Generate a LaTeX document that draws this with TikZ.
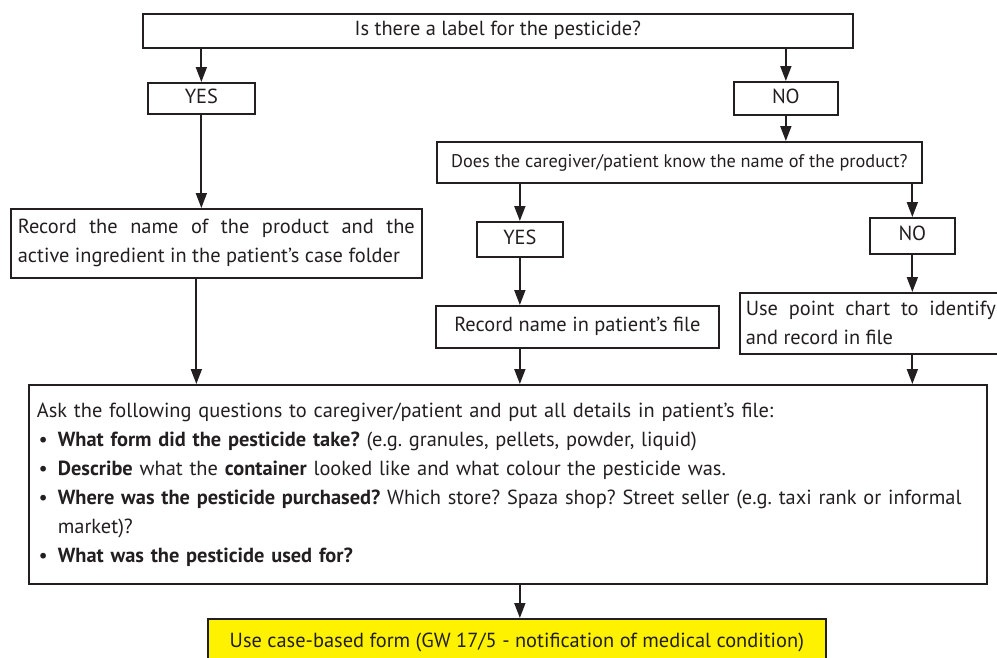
\documentclass[tikz,border=0pt]{standalone}
\usepackage{fontspec}
\setmainfont{PT Sans}
\usepackage{enumitem}
\usetikzlibrary{arrows.meta,positioning,calc}
\definecolor{ink}{HTML}{231F20}
\definecolor{flag}{HTML}{FFF200}
\frenchspacing

\begin{document}
\begin{tikzpicture}[
  x=1pt,y=-1pt,
  box/.style={draw=ink,line width=1.7pt,text=ink,anchor=north west,
              inner xsep=7pt,inner ysep=0pt,font=\fontsize{20.4}{29}\selectfont},
  lone/.style={text height=14pt,text depth=4.5pt},
  arr/.style={-{Triangle[length=15pt,width=11pt]},line width=1.8pt,color=ink}
]
\useasboundingbox (0,0) rectangle (997,657);
\clip (0,0) rectangle (997,657);
% first question and its answers
\node[box,lone,minimum width=710,minimum height=34] (lbl) at (142,13) {Is there a label for the pesticide?};
\node[box,lone,minimum width=107,minimum height=31] (yes1) at (147,82) {YES};
\node[box,lone,minimum width=104,minimum height=33] (no1) at (733,81) {NO};
\node[box,text width=397,align=justify,minimum height=69] (rec1) at (10,208)
  {Record the name of the product and the\linebreak active ingredient in the patient’s case folder};
% second question
\node[box,lone,minimum width=485,minimum height=41,font=\fontsize{18.3}{29}\selectfont] (name) at (436,141)
  {Does the caregiver/patient know the name of the product?};
\node[box,lone,minimum width=86,minimum height=35] (yes2) at (476,221) {YES};
\node[box,lone,minimum width=85,minimum height=36] (no2) at (869,217) {NO};
\node[box,lone,minimum width=283,minimum height=42] (rec2) at (435,305) {Record name in patient’s file};
\node[box,text width=250,inner xsep=6pt,align=justify,minimum height=61] (chart) at (739,292)
  {Use point chart to identify\linebreak and record in file};
% questions for everyone
\node[box,text width=942,inner xsep=8pt,align=left,minimum height=199] (ask) at (28,384)
  {Ask the following questions to caregiver/patient and put all details in patient’s file:
   \begin{itemize}[leftmargin=21pt,labelsep=10pt,nosep]
   \item \textbf{What form did the pesticide take?} (e.g. granules, pellets, powder, liquid)
   \item \textbf{Describe} what the \textbf{container} looked like and what colour the pesticide was.
   \item \textbf{Where was the pesticide purchased?} Which store? Spaza shop? Street seller (e.g. taxi rank or informal\\ market)?
   \item \textbf{What was the pesticide used for?}
   \end{itemize}};
\node[box,lone,fill=flag,minimum width=618,minimum height=48] (form) at (207,618)
  {Use case-based form (GW 17/5 - notification of medical condition)};
% connectors
\draw[arr] (lbl.south -| yes1) -- (yes1);
\draw[arr] (lbl.south -| no1) -- (no1);
\draw[arr] (yes1) -- (rec1.north -| yes1);
\draw[arr] (no1) -- (name.north -| no1);
\draw[arr] (name.south -| yes2) -- (yes2);
\draw[arr] (name.south -| no2) -- (no2);
\draw[arr] (yes2) -- (rec2.north -| yes2);
\draw[arr] (no2) -- (chart.north -| no2);
\draw[arr] ([xshift=-5pt]rec1.south -| yes1) -- ([xshift=-5pt]ask.north -| yes1);
\draw[arr] (rec2.south -| yes2) -- (ask.north -| yes2);
\draw[arr] (chart.south -| no2) -- (ask.north -| no2);
\draw[arr] (ask.south -| yes2) -- (form.north -| yes2);
\end{tikzpicture}
\end{document}
